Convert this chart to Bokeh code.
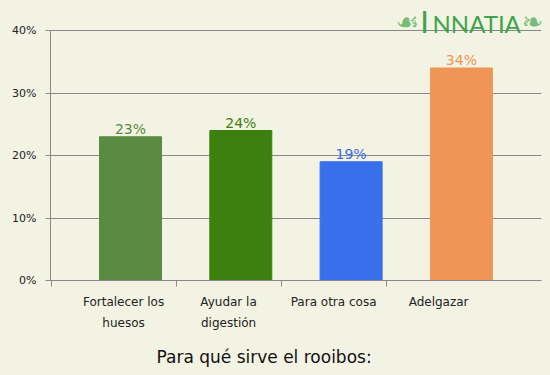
from bokeh.plotting import figure
from bokeh.models import ColumnDataSource, FixedTicker, PrintfTickFormatter, Label, Range1d, Title
from bokeh.core.properties import value
from bokeh.embed import file_html
from bokeh.resources import INLINE

categories = ["Fortalecer los\nhuesos", "Ayudar la\ndigestión", "Para otra cosa", "Adelgazar"]
values = [23, 24, 19, 34]
value_labels = ["23%", "24%", "19%", "34%"]
colors = ["#5b8a43", "#3c800f", "#386fea", "#f19557"]
y_ticks = [0, 10, 20, 30, 40]
title_text = "Para qué sirve el rooibos:"

BG = "#f3f3e3"
GRID = "#888888"
FONT = "DejaVu Sans"
LABEL_STEP = 0.952
LABEL_SHIFT = -0.063
X_START, X_END = -0.7253, 3.726
Y_MAX = 40
Y_TOP = 44.8  # extra room above the axis for the logo

idx = list(range(len(values)))
src = ColumnDataSource(dict(x=idx, top=values, color=colors, lab=value_labels))

p = figure(frame_width=491, frame_height=280, output_backend="svg", toolbar_location=None,
           x_range=Range1d(X_START, X_END), y_range=Range1d(0, Y_TOP),
           min_border_left=50, min_border_right=9, min_border_top=0, min_border_bottom=95,
           background_fill_color=BG, border_fill_color=BG, outline_line_color=None)

p.vbar(x="x", top="top", bottom=0, width=0.562, color="color", source=src)
p.text(x="x", y="top", text="lab", text_color="color", source=src,
       text_align="center", text_baseline="bottom",
       text_font=value(FONT), text_font_size="14px")

# y axis
p.yaxis.ticker = FixedTicker(ticks=y_ticks)
p.yaxis.bounds = (0, Y_MAX)
p.yaxis.formatter = PrintfTickFormatter(format="%d%%")
p.yaxis.axis_line_color = GRID
p.yaxis.major_tick_line_color = GRID
p.yaxis.major_tick_out = 5
p.yaxis.major_tick_in = 0
p.yaxis.minor_tick_line_color = None
p.yaxis.major_label_standoff = 9
p.yaxis.major_label_text_font = FONT
p.yaxis.major_label_text_font_size = "11px"
p.yaxis.major_label_text_color = "#222222"
p.ygrid.grid_line_color = GRID
p.ygrid.grid_line_alpha = 1.0

# x axis
label_pos = [LABEL_SHIFT + LABEL_STEP * i for i in idx]
bounds = [X_START + 0.005] + [pos + LABEL_STEP / 2 for pos in label_pos[:-1]]
p.xaxis.ticker = FixedTicker(ticks=label_pos, minor_ticks=bounds)
p.xaxis.major_label_overrides = {pos: c for pos, c in zip(label_pos, categories)}
p.xaxis.axis_line_color = GRID
p.xaxis.major_tick_line_color = None
p.xaxis.major_tick_out = 0
p.xaxis.major_tick_in = 0
p.xaxis.minor_tick_line_color = GRID
p.xaxis.minor_tick_out = 6
p.xaxis.minor_tick_in = 0
p.xaxis.major_label_standoff = 8
p.xaxis.major_label_text_font = FONT
p.xaxis.major_label_text_font_size = "12px"
p.xaxis.major_label_text_color = "#222222"
p.xaxis.major_label_text_line_height = 1.55
p.xgrid.grid_line_color = None

# title below
p.add_layout(Title(text=title_text, align="left", offset=106, standoff=22,
                   text_font=FONT, text_font_size="17px", text_font_style="normal",
                   text_color="#111111"), "below")

# logo
LOGO = "#3fa34d"
p.add_layout(Label(x=2.665, y=41.5, text="I", text_align="center", text_baseline="middle",
                   text_font="Lato", text_font_size="31px", text_color=LOGO))
p.add_layout(Label(x=2.738, y=41.2, text="NNATIA", text_align="left", text_baseline="middle",
                   text_font="Lato", text_font_size="24px", text_color=LOGO))
p.add_layout(Label(x=2.51, y=41.3, text="☙", text_align="center", text_baseline="middle",
                   text_font=FONT, text_font_size="26px", text_color=LOGO, text_alpha=0.7))
p.add_layout(Label(x=3.645, y=41.3, text="❧", text_align="center", text_baseline="middle",
                   text_font=FONT, text_font_size="26px", text_color=LOGO, text_alpha=0.7))

html = file_html(p, INLINE)
html = html.replace("<head>", "<head><style>body{margin:0;background:#f3f3e3;}</style>", 1)
open("out.html", "w").write(html)
